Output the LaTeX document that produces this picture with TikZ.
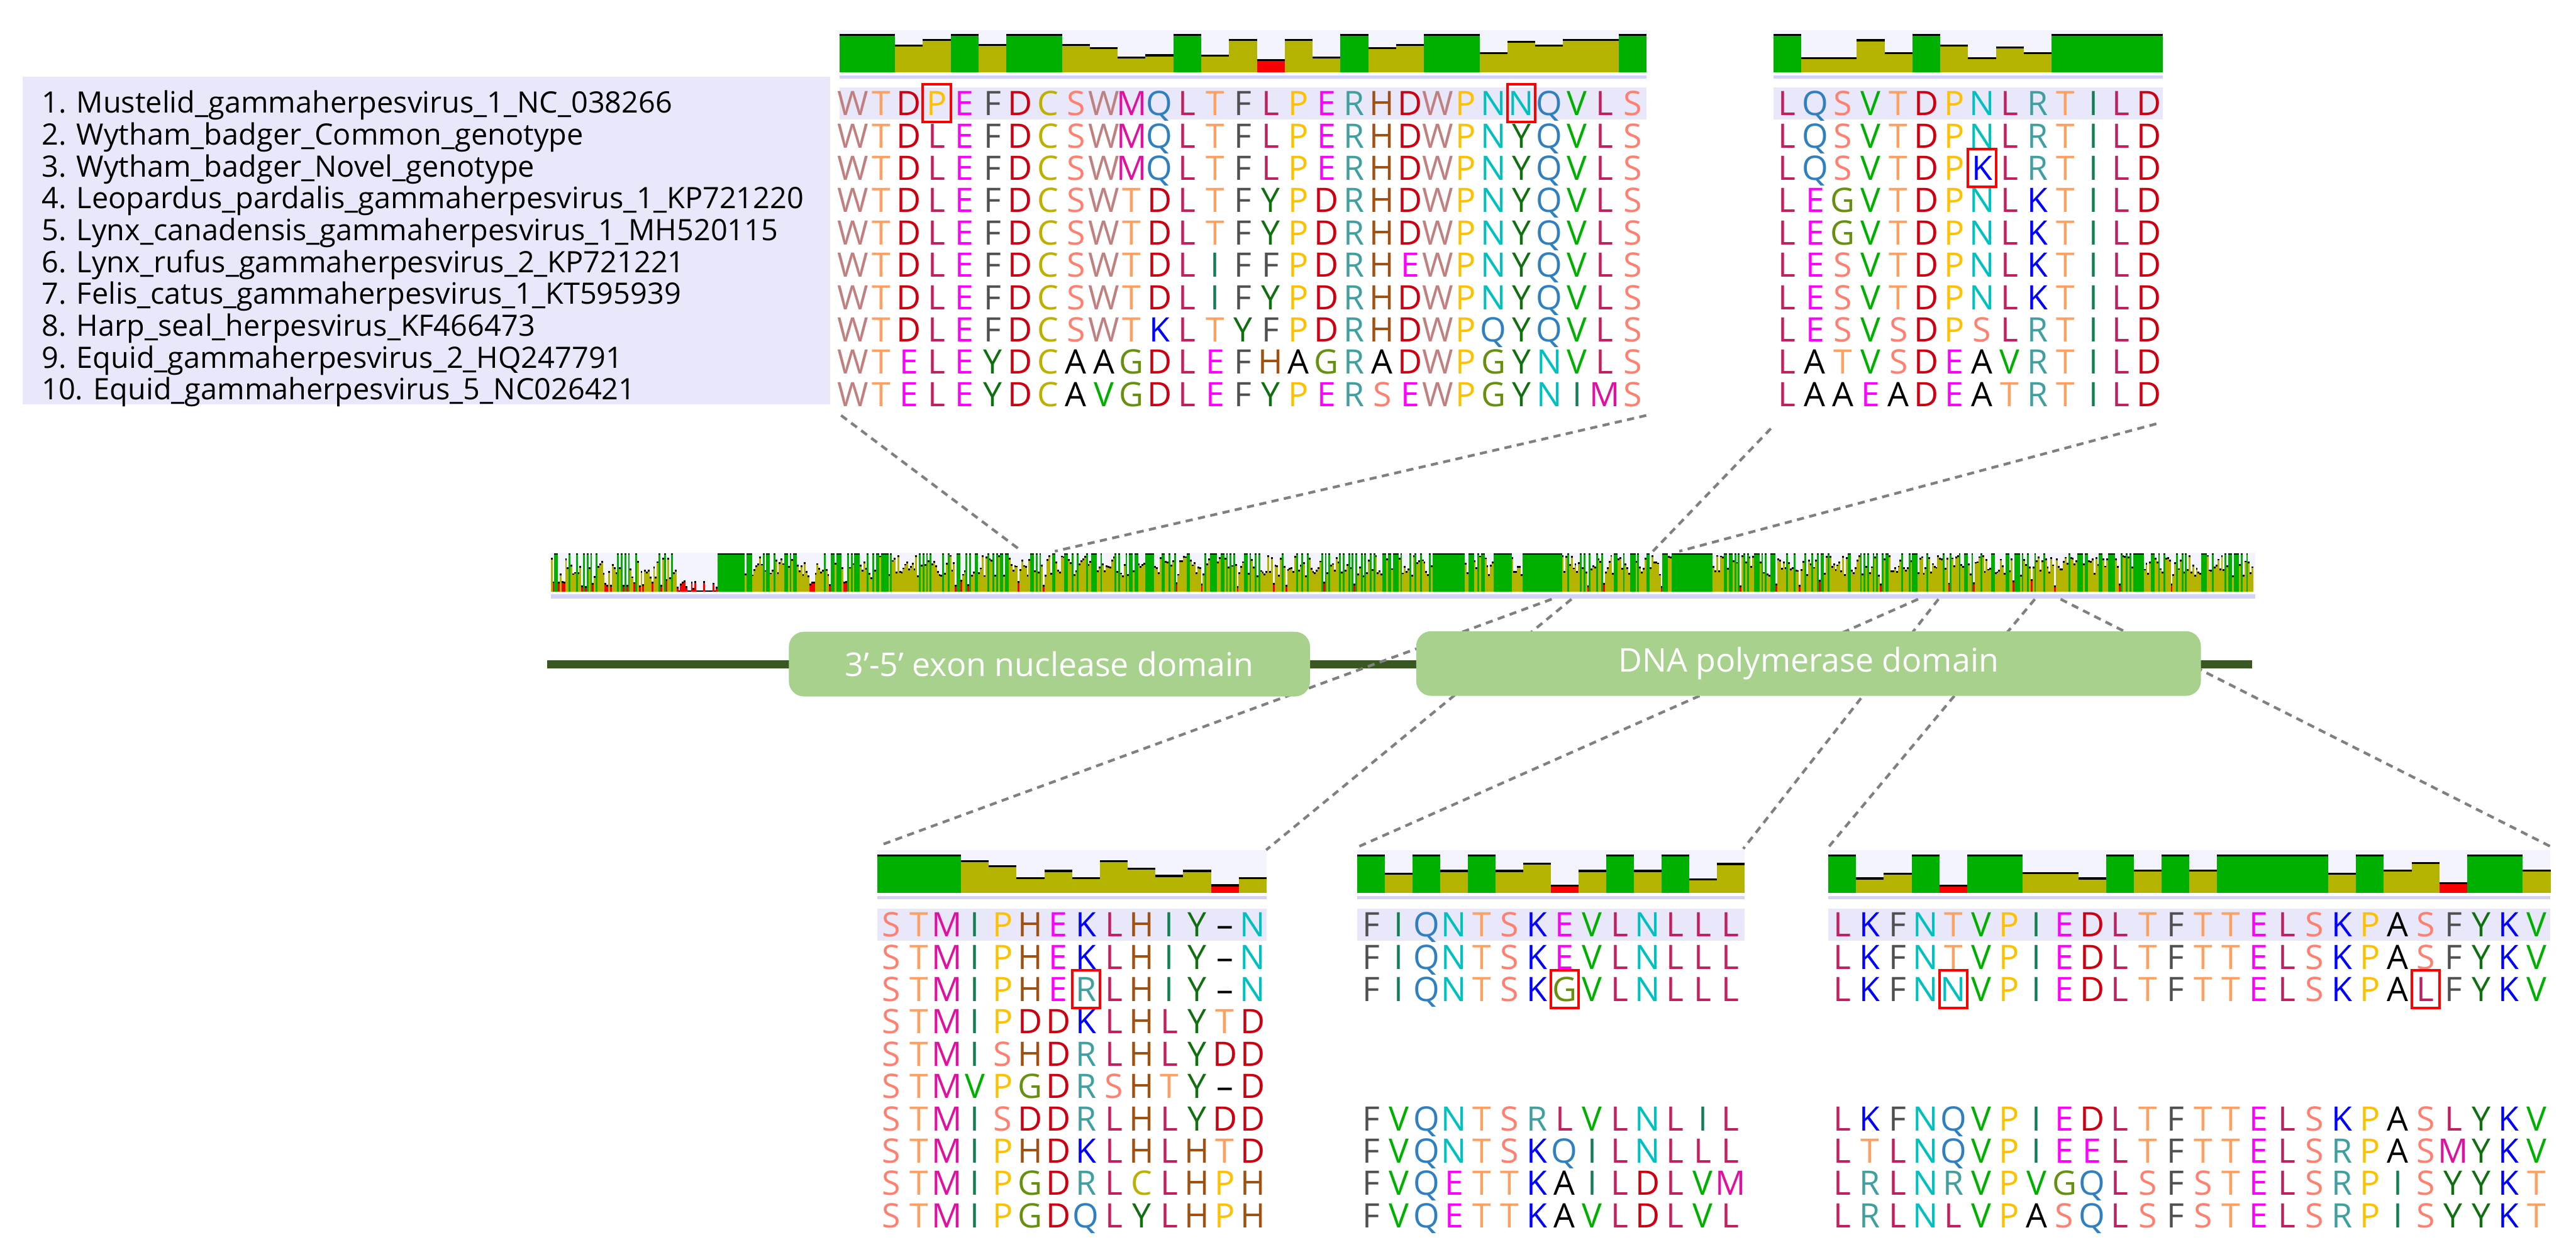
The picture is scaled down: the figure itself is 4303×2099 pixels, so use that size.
\documentclass[tikz,border=0pt]{standalone}
\usepackage{fontspec}
\setmainfont{Open Sans}
\usepackage{tikz}
\usetikzlibrary{positioning, calc}

\definecolor{domgreen}{RGB}{169,209,142}
\definecolor{axisgreen}{RGB}{56,87,35}
\definecolor{consG}{RGB}{0,176,0}
\definecolor{consY}{RGB}{179,179,0}
\definecolor{consR}{RGB}{250,0,0}
\definecolor{histbg}{RGB}{244,244,255}
\definecolor{rulebg}{RGB}{210,210,250}
\definecolor{bandbg}{RGB}{232,232,250}
\definecolor{legbg}{RGB}{232,232,250}
\definecolor{dashgray}{RGB}{128,128,128}

\tikzstyle{res}    = [inner sep=0pt, anchor=base, font=\fontsize{16}{16}\selectfont]
\tikzstyle{dom}    = [rectangle, rounded corners=2.5mm, fill=domgreen, text=white,
                      minimum height=1.08cm, font=\fontsize{15.5}{16}\selectfont]
\tikzstyle{conn}   = [draw=dashgray, line width=0.45mm, dash pattern=on 1.2mm off 0.9mm]
\tikzstyle{hl}     = [draw=red, line width=0.4mm]
\tikzstyle{legend} = [anchor=base west, inner sep=0pt, font=\fontsize{14}{14}\selectfont]

\tikzset{
  res W/.style={text={rgb,255:red,192;green,128;blue,128}},
  res T/.style={text={rgb,255:red,255;green,160;blue,96}},
  res D/.style={text={rgb,255:red,204;green,0;blue,16}},
  res P/.style={text={rgb,255:red,255;green,192;blue,0}},
  res E/.style={text={rgb,255:red,255;green,0;blue,255}},
  res F/.style={text={rgb,255:red,80;green,80;blue,80}},
  res C/.style={text={rgb,255:red,190;green,176;blue,0}},
  res S/.style={text={rgb,255:red,255;green,128;blue,112}},
  res M/.style={text={rgb,255:red,224;green,16;blue,160}},
  res Q/.style={text={rgb,255:red,48;green,128;blue,192}},
  res L/.style={text={rgb,255:red,192;green,32;blue,96}},
  res R/.style={text={rgb,255:red,64;green,160;blue,160}},
  res H/.style={text={rgb,255:red,160;green,80;blue,16}},
  res N/.style={text={rgb,255:red,0;green,192;blue,192}},
  res V/.style={text={rgb,255:red,0;green,176;blue,0}},
  res Y/.style={text={rgb,255:red,16;green,112;blue,16}},
  res K/.style={text={rgb,255:red,0;green,0;blue,255}},
  res I/.style={text={rgb,255:red,16;green,128;blue,80}},
  res A/.style={text=black},
  res G/.style={text={rgb,255:red,104;green,144;blue,16}},
  res --/.style={text=black}
}

% conservation histogram: x0, column width, base line, heights
\newcommand{\consbars}[4]{%
  \foreach \h [count=\i] in {#4}{%
    \ifdim\h pt>0.99pt \def\bc{consG}\else\ifdim\h pt<0.33pt \def\bc{consR}\else\def\bc{consY}\fi\fi
    \fill[\bc] ({#1+(\i-1)*#2},#3) rectangle ++(#2,{-\h*61});
    \fill[black] ({#1+(\i-1)*#2},{#3-\h*61}) rectangle ++(#2,-3.5);
  }}
% one row of residues: block, row, x0, column width, y of row 1, letters
\newcommand{\seqrow}[6]{%
  \foreach \c [count=\i] in {#6}{%
    \node[res, res \c] (#1-#2-\i) at ({#3+(\i-0.5)*#4},{#5+(#2-1)*54+20}) {\c};
  }}
% red frame round one cell: x0, column width, y of row 1, row, column
\newcommand{\hlcell}[5]{%
  \draw[hl] ({#1+(#5-1)*#2},{#3+(#4-1)*54-32}) rectangle ++(#2,63);}

\begin{document}
\begin{tikzpicture}[x=0.01cm, y=-0.01cm]
  \useasboundingbox (0,0) rectangle (4303,2099);

  % sequence names
  \fill[legbg] (38,128) rectangle (1387,676);
  \foreach \t [count=\k] in {1. Mustelid\_gammaherpesvirus\_1\_NC\_038266,
      2. Wytham\_badger\_Common\_genotype, 3. Wytham\_badger\_Novel\_genotype,
      4. Leopardus\_pardalis\_gammaherpesvirus\_1\_KP721220,
      5. Lynx\_canadensis\_gammaherpesvirus\_1\_MH520115,
      6. Lynx\_rufus\_gammaherpesvirus\_2\_KP721221,
      7. Felis\_catus\_gammaherpesvirus\_1\_KT595939, 8. Harp\_seal\_herpesvirus\_KF466473,
      9. Equid\_gammaherpesvirus\_2\_HQ247791, 10. Equid\_gammaherpesvirus\_5\_NC026421}
    \node[legend] (lg-\k) at (69,{174+(\k-1)*53.2+15}) {\t};

  % top left block
  \fill[histbg] (1402,50) rectangle (2750.5,121);
  \fill[rulebg] (1402,126) rectangle (2750.5,131);
  \fill[bandbg] (1402,146) rectangle (2750.5,200);
  \consbars{1402}{46.5}{121}{1,1,.71,.86,1,.72,1,1,.72,.64,.375,.44,1,.43,.86,.31,.86,.375,1,.64,.72,1,1,.5,.81,.71,.86,.86,1}
  \seqrow{tl}{1}{1402}{46.5}{173}{W,T,D,P,E,F,D,C,S,W,M,Q,L,T,F,L,P,E,R,H,D,W,P,N,N,Q,V,L,S}
  \seqrow{tl}{2}{1402}{46.5}{173}{W,T,D,L,E,F,D,C,S,W,M,Q,L,T,F,L,P,E,R,H,D,W,P,N,Y,Q,V,L,S}
  \seqrow{tl}{3}{1402}{46.5}{173}{W,T,D,L,E,F,D,C,S,W,M,Q,L,T,F,L,P,E,R,H,D,W,P,N,Y,Q,V,L,S}
  \seqrow{tl}{4}{1402}{46.5}{173}{W,T,D,L,E,F,D,C,S,W,T,D,L,T,F,Y,P,D,R,H,D,W,P,N,Y,Q,V,L,S}
  \seqrow{tl}{5}{1402}{46.5}{173}{W,T,D,L,E,F,D,C,S,W,T,D,L,T,F,Y,P,D,R,H,D,W,P,N,Y,Q,V,L,S}
  \seqrow{tl}{6}{1402}{46.5}{173}{W,T,D,L,E,F,D,C,S,W,T,D,L,I,F,F,P,D,R,H,E,W,P,N,Y,Q,V,L,S}
  \seqrow{tl}{7}{1402}{46.5}{173}{W,T,D,L,E,F,D,C,S,W,T,D,L,I,F,Y,P,D,R,H,D,W,P,N,Y,Q,V,L,S}
  \seqrow{tl}{8}{1402}{46.5}{173}{W,T,D,L,E,F,D,C,S,W,T,K,L,T,Y,F,P,D,R,H,D,W,P,Q,Y,Q,V,L,S}
  \seqrow{tl}{9}{1402}{46.5}{173}{W,T,E,L,E,Y,D,C,A,A,G,D,L,E,F,H,A,G,R,A,D,W,P,G,Y,N,V,L,S}
  \seqrow{tl}{10}{1402}{46.5}{173}{W,T,E,L,E,Y,D,C,A,V,G,D,L,E,F,Y,P,E,R,S,E,W,P,G,Y,N,I,M,S}
  \hlcell{1402}{46.5}{173}{1}{4}
  \hlcell{1402}{46.5}{173}{1}{25}

  % top right block
  \fill[histbg] (2962,50) rectangle (3613,121);
  \fill[rulebg] (2962,126) rectangle (3613,131);
  \fill[bandbg] (2962,146) rectangle (3613,200);
  \consbars{2962}{46.5}{121}{1,.36,.36,.85,.5,1,.71,.36,.65,.5,1,1,1,1}
  \seqrow{tr}{1}{2962}{46.5}{173}{L,Q,S,V,T,D,P,N,L,R,T,I,L,D}
  \seqrow{tr}{2}{2962}{46.5}{173}{L,Q,S,V,T,D,P,N,L,R,T,I,L,D}
  \seqrow{tr}{3}{2962}{46.5}{173}{L,Q,S,V,T,D,P,K,L,R,T,I,L,D}
  \seqrow{tr}{4}{2962}{46.5}{173}{L,E,G,V,T,D,P,N,L,K,T,I,L,D}
  \seqrow{tr}{5}{2962}{46.5}{173}{L,E,G,V,T,D,P,N,L,K,T,I,L,D}
  \seqrow{tr}{6}{2962}{46.5}{173}{L,E,S,V,T,D,P,N,L,K,T,I,L,D}
  \seqrow{tr}{7}{2962}{46.5}{173}{L,E,S,V,T,D,P,N,L,K,T,I,L,D}
  \seqrow{tr}{8}{2962}{46.5}{173}{L,E,S,V,S,D,P,S,L,R,T,I,L,D}
  \seqrow{tr}{9}{2962}{46.5}{173}{L,A,T,V,S,D,E,A,V,R,T,I,L,D}
  \seqrow{tr}{10}{2962}{46.5}{173}{L,A,A,E,A,D,E,A,T,R,T,I,L,D}
  \hlcell{2962}{46.5}{173}{3}{8}

  % bottom left block
  \fill[histbg] (1466,1420) rectangle (2116,1492);
  \fill[rulebg] (1466,1497) rectangle (2116,1502);
  \fill[bandbg] (1466,1518) rectangle (2116,1572);
  \consbars{1466}{46.4}{1492}{1,1,1,.85,.71,.375,.58,.375,.85,.64,.44,.58,.18,.375}
  \seqrow{bl}{1}{1466}{46.4}{1545}{S,T,M,I,P,H,E,K,L,H,I,Y,--,N}
  \seqrow{bl}{2}{1466}{46.4}{1545}{S,T,M,I,P,H,E,K,L,H,I,Y,--,N}
  \seqrow{bl}{3}{1466}{46.4}{1545}{S,T,M,I,P,H,E,R,L,H,I,Y,--,N}
  \seqrow{bl}{4}{1466}{46.4}{1545}{S,T,M,I,P,D,D,K,L,H,L,Y,T,D}
  \seqrow{bl}{5}{1466}{46.4}{1545}{S,T,M,I,S,H,D,R,L,H,L,Y,D,D}
  \seqrow{bl}{6}{1466}{46.4}{1545}{S,T,M,V,P,G,D,R,S,H,T,Y,--,D}
  \seqrow{bl}{7}{1466}{46.4}{1545}{S,T,M,I,S,D,D,R,L,H,L,Y,D,D}
  \seqrow{bl}{8}{1466}{46.4}{1545}{S,T,M,I,P,H,D,K,L,H,L,H,T,D}
  \seqrow{bl}{9}{1466}{46.4}{1545}{S,T,M,I,P,G,D,R,L,C,L,H,P,H}
  \seqrow{bl}{10}{1466}{46.4}{1545}{S,T,M,I,P,G,D,Q,L,Y,L,H,P,H}
  \hlcell{1466}{46.4}{1545}{3}{8}

  % bottom middle block
  \fill[histbg] (2267,1420) rectangle (2914,1492);
  \fill[rulebg] (2267,1497) rectangle (2914,1502);
  \fill[bandbg] (2267,1518) rectangle (2914,1572);
  \consbars{2267}{46.2}{1492}{1,.5,1,.58,1,.58,.78,.17,.58,1,.58,1,.35,.77}
  \seqrow{bm}{1}{2267}{46.2}{1545}{F,I,Q,N,T,S,K,E,V,L,N,L,L,L}
  \seqrow{bm}{2}{2267}{46.2}{1545}{F,I,Q,N,T,S,K,E,V,L,N,L,L,L}
  \seqrow{bm}{3}{2267}{46.2}{1545}{F,I,Q,N,T,S,K,G,V,L,N,L,L,L}
  \seqrow{bm}{7}{2267}{46.2}{1545}{F,V,Q,N,T,S,R,L,V,L,N,L,I,L}
  \seqrow{bm}{8}{2267}{46.2}{1545}{F,V,Q,N,T,S,K,Q,I,L,N,L,L,L}
  \seqrow{bm}{9}{2267}{46.2}{1545}{F,V,Q,E,T,T,K,A,I,L,D,L,V,M}
  \seqrow{bm}{10}{2267}{46.2}{1545}{F,V,Q,E,T,T,K,A,V,L,D,L,V,L}
  \hlcell{2267}{46.2}{1545}{3}{8}

  % bottom right block
  \fill[histbg] (3054,1420) rectangle (4260,1492);
  \fill[rulebg] (3054,1497) rectangle (4260,1502);
  \fill[bandbg] (3054,1518) rectangle (4260,1572);
  \consbars{3054}{46.4}{1492}{1,.37,.5,1,.17,1,1,.52,.52,.37,1,.59,1,.59,1,1,1,1,.5,1,.59,.79,.24,1,1,.59}
  \seqrow{br}{1}{3054}{46.4}{1545}{L,K,F,N,T,V,P,I,E,D,L,T,F,T,T,E,L,S,K,P,A,S,F,Y,K,V}
  \seqrow{br}{2}{3054}{46.4}{1545}{L,K,F,N,T,V,P,I,E,D,L,T,F,T,T,E,L,S,K,P,A,S,F,Y,K,V}
  \seqrow{br}{3}{3054}{46.4}{1545}{L,K,F,N,N,V,P,I,E,D,L,T,F,T,T,E,L,S,K,P,A,L,F,Y,K,V}
  \seqrow{br}{7}{3054}{46.4}{1545}{L,K,F,N,Q,V,P,I,E,D,L,T,F,T,T,E,L,S,K,P,A,S,L,Y,K,V}
  \seqrow{br}{8}{3054}{46.4}{1545}{L,T,L,N,Q,V,P,I,E,E,L,T,F,T,T,E,L,S,R,P,A,S,M,Y,K,V}
  \seqrow{br}{9}{3054}{46.4}{1545}{L,R,L,N,R,V,P,V,G,Q,L,S,F,S,T,E,L,S,R,P,I,S,Y,Y,K,T}
  \seqrow{br}{10}{3054}{46.4}{1545}{L,R,L,N,L,V,P,A,S,Q,L,S,F,S,T,E,L,S,R,P,I,S,Y,Y,K,T}
  \hlcell{3054}{46.4}{1545}{3}{5}
  \hlcell{3054}{46.4}{1545}{3}{22}

  % whole-gene conservation
  \fill[histbg] (920,923) rectangle (3767,989);
  \fill[rulebg] (920,993) rectangle (3767,1000);
  \pgfmathsetseed{11}
  \foreach \i in {0,...,947}{%
    \pgfmathsetmacro\r{rnd}\pgfmathsetmacro\s{rnd}
    \pgfmathsetmacro\h{(\i<70) ? (\r<0.2 ? 1 : (\r<0.42 ? 0.1+0.2*\s : 0.35+0.55*\s)) :
      ((\i<93) ? (\r<0.5 ? 0.05+0.25*\s : 0) :
      ((\i<112) ? (\i==108 ? 0.45 : 1) :
      (((\i>492 && \i<509) || (\i>524 && \i<535) || (\i>540 && \i<563) || (\i>623 && \i<647)) ? 1 :
      ((\i>144 && \i<180) ? (\r<0.25 ? 1 : (\r<0.4 ? 0.05+0.25*\s : 0.35+0.5*\s)) :
      (\r<0.33 ? 1 : (\r<0.36 ? 0.1+0.2*\s : 0.4+0.55*\s))))))}
    \ifdim\h pt>0.99pt \def\bc{consG}\else\ifdim\h pt<0.33pt \def\bc{consR}\else\def\bc{consY}\fi\fi
    \fill[\bc] ({920+3*\i},989) rectangle ++(3,{-\h*62});
    \fill[black] ({920+3*\i},{989-\h*62}) rectangle ++(3,-3);
  }

  % gene axis
  \coordinate (ax-w) at (914,1110);
  \coordinate (ax-e) at (3762,1110);
  \draw[axisgreen, line width=1.3mm] (ax-w) -- (ax-e);

  % zoom connectors
  \coordinate (tl-sw) at (1405,694);  \coordinate (ov-1) at (1707,921);
  \coordinate (tl-se) at (2750,694);  \coordinate (ov-2) at (1762,921);
  \coordinate (tr-sw) at (2958,716);  \coordinate (ov-3) at (2761,921);
  \coordinate (tr-se) at (3602,708);  \coordinate (ov-4) at (2805,921);
  \coordinate (bl-nw) at (1468,1413); \coordinate (ov-5) at (2592,1001);
  \coordinate (bl-ne) at (2115,1420); \coordinate (ov-6) at (2625,1001);
  \coordinate (bm-nw) at (2268,1415); \coordinate (ov-7) at (3204,1001);
  \coordinate (bm-ne) at (2912,1418); \coordinate (ov-8) at (3238,1001);
  \coordinate (br-nw) at (3052,1418); \coordinate (ov-9) at (3399,1001);
  \coordinate (br-ne) at (4262,1415); \coordinate (ov-10) at (3442,1001);
  \draw[conn] (tl-sw) -- (ov-1);
  \draw[conn] (tl-se) -- (ov-2);
  \draw[conn] (tr-sw) -- (ov-3);
  \draw[conn] (tr-se) -- (ov-4);
  \draw[conn] (ov-5) -- (bl-nw);
  \draw[conn] (ov-6) -- (bl-ne);
  \draw[conn] (ov-7) -- (bm-nw);
  \draw[conn] (ov-8) -- (bm-ne);
  \draw[conn] (ov-9) -- (br-nw);
  \draw[conn] (ov-10) -- (br-ne);

  % domains
  \node[dom, minimum width=8.7cm]  (exo) at (1753,1109.5) {3’-5’ exon nuclease domain};
  \node[dom, minimum width=13.1cm] (pol) at (3021,1108.5) {DNA polymerase domain};
\end{tikzpicture}
\end{document}
